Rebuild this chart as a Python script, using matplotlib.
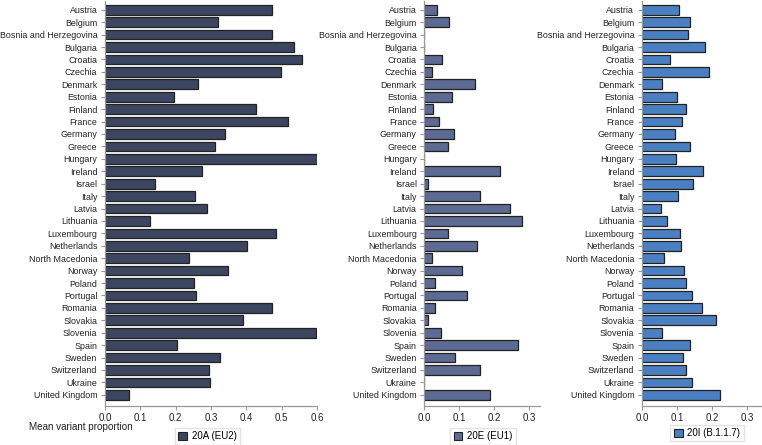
import matplotlib.pyplot as plt
from matplotlib.patches import Patch

plt.rcParams['font.family'] = ['Liberation Sans', 'DejaVu Sans']

countries = ['Austria', 'Belgium', 'Bosnia and Herzegovina', 'Bulgaria', 'Croatia',
             'Czechia', 'Denmark', 'Estonia', 'Finland', 'France', 'Germany', 'Greece',
             'Hungary', 'Ireland', 'Israel', 'Italy', 'Latvia', 'Lithuania',
             'Luxembourg', 'Netherlands', 'North Macedonia', 'Norway', 'Poland',
             'Portugal', 'Romania', 'Slovakia', 'Slovenia', 'Spain', 'Sweden',
             'Switzerland', 'Ukraine', 'United Kingdom']

eu2_20a = [0.472, 0.319, 0.474, 0.535, 0.557, 0.499, 0.263, 0.195, 0.428, 0.517,
           0.340, 0.311, 0.600, 0.274, 0.142, 0.255, 0.288, 0.128, 0.484, 0.402,
           0.239, 0.349, 0.251, 0.257, 0.474, 0.390, 0.597, 0.203, 0.325, 0.295,
           0.297, 0.068]
eu1_20e = [0.035, 0.071, 0.0, 0.0, 0.050, 0.023, 0.144, 0.080, 0.026, 0.042,
           0.084, 0.069, 0.0, 0.216, 0.012, 0.160, 0.246, 0.278, 0.067, 0.150,
           0.022, 0.109, 0.031, 0.123, 0.030, 0.012, 0.049, 0.268, 0.088, 0.160,
           0.0, 0.187]
b117_20i = [0.106, 0.136, 0.131, 0.179, 0.080, 0.190, 0.058, 0.100, 0.126, 0.113,
            0.093, 0.136, 0.098, 0.174, 0.146, 0.104, 0.055, 0.071, 0.109, 0.112,
            0.064, 0.119, 0.124, 0.142, 0.170, 0.210, 0.056, 0.138, 0.116, 0.124,
            0.143, 0.222]

panels = [
    (eu2_20a, '20A (EU2)', '#3d4660', [0.1378, 0.0876, 0.2782, 0.91], 0.6,
     [0.0, 0.1, 0.2, 0.3, 0.4, 0.5, 0.6], (0.272, 0.02)),
    (eu1_20e, '20E (EU1)', '#5d6a94', [0.5568, 0.0876, 0.1516, 0.91], 0.33,
     [0.0, 0.1, 0.2, 0.3], (0.634, 0.02)),
    (b117_20i, '20I (B.1.1.7)', '#4a7fc1', [0.8425, 0.0876, 0.1566, 0.91], 0.34,
     [0.0, 0.1, 0.2, 0.3], (0.928, 0.027)),
]

fig = plt.figure(figsize=(7.62, 4.45), dpi=100)
ypos = list(range(len(countries)))

for vals, name, color, rect, xmax, xt, legpos in panels:
    ax = fig.add_axes(rect)
    ax.barh(ypos, vals, height=0.78, color=color, edgecolor='#222222', linewidth=0.9)
    ax.set_yticks(ypos)
    ax.set_yticklabels(countries)
    ax.set_ylim(len(countries) - 0.1, -0.7)
    ax.set_xlim(0, xmax)
    ax.set_xticks(xt)
    ax.set_xticklabels([f'{t:.1f}' for t in xt])
    for s in ['top', 'right']:
        ax.spines[s].set_visible(False)
    for s in ['left', 'bottom']:
        ax.spines[s].set_color('#999999')
        ax.spines[s].set_linewidth(0.9)
    ax.tick_params(axis='both', colors='#999999', labelcolor='#222222',
                   length=3, width=0.8)
    ax.tick_params(axis='y', labelsize=6.4, pad=2.5)
    ax.tick_params(axis='x', labelsize=7, pad=2)
    fig.legend(handles=[Patch(facecolor=color, edgecolor='#222222', linewidth=0.8,
                              label=name)],
               loc='center', bbox_to_anchor=legpos, fontsize=7, frameon=True,
               fancybox=False, edgecolor='#dddddd', handlelength=0.9, handleheight=0.9,
               handletextpad=0.5, borderpad=0.35)

fig.text(0.038, 0.04, 'Mean variant proportion', fontsize=7.1, color='#222222',
         ha='left', va='center')

fig.savefig('out.png', dpi=100)
